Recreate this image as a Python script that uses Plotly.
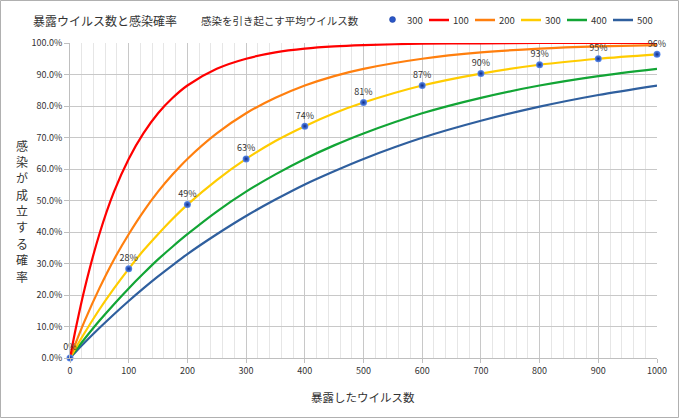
import plotly.graph_objects as go

# exposure counts (x) at which curve values were read
x_vals = [0, 10, 25, 50, 75, 100, 125, 150, 175, 200, 250, 300, 350, 400, 450, 500, 600, 700, 800, 900, 1000]

# infection probability curves, by average infectious dose
p_100 = [0, .095, .221, .393, .528, .632, .713, .777, .826, .865, .918, .950, .970, .982, .989, .993, .998, .999, 1.0, 1.0, 1.0]
p_200 = [0, .049, .118, .221, .313, .393, .465, .528, .583, .632, .713, .777, .826, .865, .895, .918, .950, .970, .982, .989, .993]
p_300 = [0, .033, .080, .154, .221, .283, .341, .393, .442, .487, .565, .632, .689, .736, .777, .811, .865, .903, .931, .950, .964]
p_400 = [0, .025, .061, .118, .171, .221, .268, .313, .354, .393, .465, .528, .583, .632, .675, .713, .777, .826, .865, .895, .918]
p_500 = [0, .020, .049, .095, .139, .181, .221, .259, .295, .330, .393, .451, .503, .551, .593, .632, .699, .753, .798, .835, .865]

# marker points for dose 300
pt_x = [0, 100, 200, 300, 400, 500, 600, 700, 800, 900, 1000]
pt_y = [0, .283, .487, .632, .736, .811, .865, .903, .931, .950, .964]
pt_labels = ["0%", "28%", "49%", "63%", "74%", "81%", "87%", "90%", "93%", "95%", "96%"]

series_names = ["100", "200", "300", "400", "500"]
series_vals = [p_100, p_200, p_300, p_400, p_500]
series_cols = ["#ff0000", "#ff7f0e", "#ffcc00", "#12a535", "#2f5f9e"]

y_title = "感染が成立する確率"

FONT = "Noto Sans CJK JP"
TXT = "#333333"
W, H = 680, 419
ml, mr, mt, mb = 70, 23, 43, 61
pw, ph = W - ml - mr, H - mt - mb


def px2x(px):
    return (px - ml) / pw


def py2y(py):
    return (mt + ph - py) / ph


fig = go.Figure()

for name, ys, col in reversed(list(zip(series_names, series_vals, series_cols))):
    fig.add_trace(go.Scatter(
        x=x_vals, y=ys, mode="lines", name=name, showlegend=False,
        line=dict(color=col, width=2.2, shape="spline", smoothing=0.8),
    ))

fig.add_trace(go.Scatter(
    x=pt_x, y=pt_y, mode="markers+text", name="300", showlegend=False,
    text=pt_labels, textposition="top center",
    textfont=dict(size=9, color=TXT, family=FONT),
    marker=dict(size=7, color="#5d8ef0", gradient=dict(type="radial", color="#0b2a88"),
                line=dict(width=0)),
    cliponaxis=False,
))

annotations = [
    dict(text="暴露したウイルス数", xref="paper", yref="paper",
         x=px2x(363), y=py2y(397), xanchor="center", yanchor="middle",
         showarrow=False, font=dict(size=11.5, color=TXT, family=FONT)),
    dict(text="暴露ウイルス数と感染確率", xref="paper", yref="paper",
         x=px2x(31), y=py2y(20), xanchor="left", yanchor="middle",
         showarrow=False, font=dict(size=12, color=TXT, family=FONT)),
    dict(text="感染を引き起こす平均ウイルス数", xref="paper", yref="paper",
         x=px2x(199), y=py2y(20), xanchor="left", yanchor="middle",
         showarrow=False, font=dict(size=10.5, color=TXT, family=FONT)),
    dict(text="300", xref="paper", yref="paper",
         x=px2x(405), y=py2y(20), xanchor="left", yanchor="middle",
         showarrow=False, font=dict(size=9.5, color=TXT, family=FONT)),
]

# vertical (stacked) y-axis title, one character per line
for i, ch in enumerate(y_title):
    annotations.append(dict(text=ch, xref="paper", yref="paper", borderpad=0,
                            x=px2x(22), y=py2y(145 + 16.4 * i), xanchor="center", yanchor="middle",
                            showarrow=False, font=dict(size=12, color=TXT, family=FONT)))

shapes = [
    dict(type="rect", xref="paper", yref="paper",
         x0=px2x(0.5), x1=px2x(678.5), y0=py2y(417.5), y1=py2y(0.5),
         line=dict(color="#b0b0b0", width=1), layer="below"),
    dict(type="circle", xref="paper", yref="paper",
         x0=px2x(389.5), x1=px2x(395.5), y0=py2y(22.5), y1=py2y(16.5),
         fillcolor="#2a56c6", line=dict(color="#1a3c9c", width=0.5)),
]

# compact legend for the line series
for i, (name, col) in enumerate(zip(series_names, series_cols)):
    x0 = 429 + 46 * i
    shapes.append(dict(type="line", xref="paper", yref="paper",
                       x0=px2x(x0), x1=px2x(x0 + 20), y0=py2y(20), y1=py2y(20),
                       line=dict(color=col, width=2.5)))
    annotations.append(dict(text=name, xref="paper", yref="paper",
                            x=px2x(x0 + 22), y=py2y(20), xanchor="left", yanchor="middle",
                            showarrow=False, font=dict(size=9.5, color=TXT, family=FONT)))

fig.update_layout(
    width=W, height=H,
    margin=dict(l=ml, r=mr, t=mt, b=mb, autoexpand=False),
    paper_bgcolor="white", plot_bgcolor="white",
    font=dict(family=FONT, color=TXT, size=9),
    showlegend=False,
    xaxis=dict(range=[0, 1000], dtick=100, tick0=0, showgrid=True, gridcolor="#c8c8c8", gridwidth=1,
               minor=dict(dtick=20, showgrid=True, gridcolor="#e6e6e6", gridwidth=1),
               showline=True, linecolor="#bfbfbf", linewidth=1,
               ticks="outside", ticklen=4, tickcolor="#bfbfbf",
               tickfont=dict(size=9, color=TXT), automargin=False, zeroline=False),
    yaxis=dict(range=[0, 1], dtick=0.1, tickformat=".1%", showgrid=True, gridcolor="#c8c8c8", gridwidth=1,
               showline=True, linecolor="#bfbfbf", linewidth=1,
               ticks="outside", ticklen=5, tickcolor="#bfbfbf", automargin=False,
               tickfont=dict(size=9, color=TXT), zeroline=False),
    annotations=annotations,
    shapes=shapes,
)

fig.write_html(
    "out.html",
    config={"displayModeBar": False},
    post_script="document.body.style.margin='0';document.body.style.padding='0';"
                "document.body.style.overflow='hidden';",
)
